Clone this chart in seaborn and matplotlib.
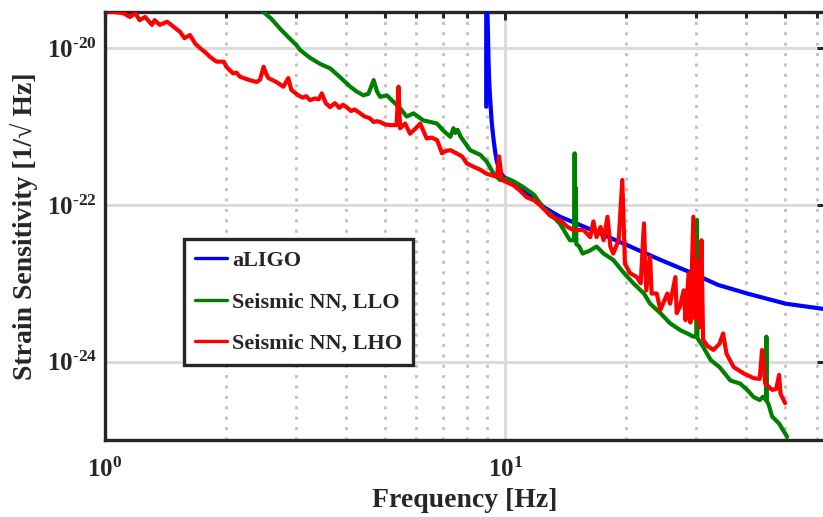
import numpy as np
import pandas as pd
import matplotlib
matplotlib.use("Agg")
import matplotlib.pyplot as plt
from matplotlib.ticker import FixedLocator, FixedFormatter, NullFormatter, NullLocator
import seaborn as sns

# ---------------- data ----------------
aligo_f = [8.96, 8.962, 9.03, 9.08, 9.12, 9.17, 9.25, 9.35, 9.45, 9.53, 9.7, 9.9,
           10.5, 11.8, 12.5, 13.7, 14.8, 17.0, 20.1, 24.4, 29.0, 34.0, 40.2, 50.2, 63.0]
aligo_logh = [-20.745, -19.0, -19.6, -20.15, -20.45, -20.66, -20.95, -21.17, -21.35, -21.45,
              -21.57, -21.64, -21.72, -21.92, -22.03, -22.15, -22.22, -22.35, -22.51, -22.70,
              -22.86, -23.02, -23.13, -23.26, -23.33]

llo_f = [2.48, 2.6, 2.75, 2.9, 3.01, 3.07, 3.25, 3.45, 3.65, 3.85, 4.10, 4.25, 4.42, 4.55,
         4.69, 4.78, 4.87, 5.06, 5.25, 5.45, 5.67, 5.9, 6.24, 6.5, 6.75, 7.0, 7.29, 7.42,
         7.5, 7.6, 7.74, 8.17, 8.66, 9.0, 9.35, 9.7, 10.1, 10.5, 11.0, 11.8, 12.5, 13.0,
         13.7, 14.5, 14.85, 14.9, 14.95, 15.0, 15.05, 15.3, 15.6, 16.3, 16.9, 17.6, 18.6,
         19.8, 20.9, 22.2, 23.0, 24.4, 25.8, 27.4, 28.5, 29.5, 30.0, 30.1, 30.2, 31.2,
         32.6, 34.3, 36.5, 38.6, 40.2, 41.7, 43.2, 44.0, 44.8, 44.9, 45.0, 45.5, 46.4,
         48.3, 50.6]
llo_logh = [-19.53, -19.62, -19.76, -19.88, -19.96, -20.02, -20.12, -20.20, -20.255, -20.36,
            -20.49, -20.55, -20.60, -20.58, -20.405, -20.55, -20.62, -20.60, -20.68, -20.76,
            -20.87, -20.83, -20.92, -20.94, -20.96, -21.05, -21.13, -21.02, -21.08, -21.04,
            -21.13, -21.30, -21.36, -21.45, -21.60, -21.68, -21.66, -21.70, -21.76, -21.87,
            -22.05, -22.12, -22.24, -22.45, -22.45, -21.34, -22.45, -21.78, -22.50, -22.53,
            -22.62, -22.58, -22.53, -22.62, -22.70, -22.87, -23.00, -23.13, -23.26, -23.38,
            -23.51, -23.60, -23.64, -23.68, -23.68, -22.19, -23.70, -23.81, -23.98, -24.07,
            -24.24, -24.28, -24.36, -24.45, -24.49, -24.45, -24.49, -23.68, -24.50, -24.55,
            -24.70, -24.79, -24.96]

lho_f = [1.0, 1.03, 1.07, 1.11, 1.155, 1.19, 1.22, 1.26, 1.31, 1.33, 1.37, 1.43, 1.48,
         1.54, 1.58, 1.63, 1.68, 1.73, 1.78, 1.83, 1.90, 1.98, 2.01, 2.05, 2.09, 2.13,
         2.17, 2.28, 2.39, 2.44, 2.49, 2.53, 2.56, 2.68, 2.79, 2.87, 2.92, 3.04, 3.12,
         3.18, 3.25, 3.35, 3.42, 3.48, 3.56, 3.65, 3.75, 3.85, 3.93, 4.01, 4.12, 4.2,
         4.34, 4.45, 4.58, 4.69, 4.78, 4.87, 5.0, 5.16, 5.35, 5.41, 5.46, 5.62, 5.78,
         5.95, 6.13, 6.36, 6.55, 6.75, 6.95, 7.1, 7.29, 7.55, 7.8, 8.02, 8.32, 8.66,
         8.97, 9.25, 9.53, 9.65, 9.8, 10.1, 10.5, 10.9, 11.3, 11.8, 12.2, 12.6, 12.9,
         13.3, 13.7, 14.3, 14.8, 15.7, 16.3, 16.6, 16.9, 17.3, 17.6, 18.0, 18.3, 18.6,
         19.2, 19.6, 19.9, 20.5, 21.3, 21.8, 22.2, 22.5, 23.0, 23.2, 23.9, 24.4, 25.4,
         25.8, 26.6, 26.8, 27.3, 27.9, 28.2, 28.7, 29.0, 29.5, 29.8, 30.1, 30.6, 30.9,
         31.2, 32.0, 33.1, 34.3, 35.0, 35.7, 37.2, 39.4, 41.7, 43.2, 43.8, 44.6, 46.4,
         47.5, 48.3, 48.7, 50.0]
lho_logh = [-19.51, -19.53, -19.54, -19.55, -19.60, -19.55, -19.64, -19.60, -19.70, -19.64,
            -19.70, -19.66, -19.72, -19.79, -19.87, -19.83, -19.94, -20.00, -20.05, -20.11,
            -20.17, -20.17, -20.235, -20.28, -20.32, -20.31, -20.36, -20.40, -20.43, -20.40,
            -20.235, -20.33, -20.38, -20.43, -20.49, -20.38, -20.53, -20.60, -20.63, -20.61,
            -20.66, -20.64, -20.65, -20.575, -20.70, -20.75, -20.70, -20.76, -20.72, -20.75,
            -20.80, -20.78, -20.83, -20.87, -20.89, -20.94, -20.93, -20.94, -20.97, -20.98,
            -20.98, -20.49, -21.02, -20.96, -21.09, -21.03, -20.96, -21.15, -21.14, -21.17,
            -21.34, -21.31, -21.30, -21.34, -21.38, -21.47, -21.51, -21.55, -21.60, -21.62,
            -21.64, -21.38, -21.68, -21.71, -21.75, -21.82, -21.90, -21.94, -22.00, -22.07,
            -22.13, -22.17, -22.19, -22.28, -22.32, -22.32, -22.41, -22.21, -22.41, -22.28,
            -22.45, -22.15, -22.53, -22.62, -22.45, -21.68, -22.75, -22.87, -22.92, -23.00,
            -22.235, -23.09, -22.66, -23.13, -23.13, -23.34, -23.13, -23.26, -22.92, -23.38,
            -23.30, -23.09, -23.47, -22.87, -23.50, -22.15, -23.45, -22.70, -23.56, -22.45,
            -23.72, -23.80, -23.85, -23.77, -23.64, -23.90, -24.07, -24.15, -24.21, -24.22,
            -23.85, -24.28, -24.36, -24.35, -24.17, -24.41, -24.53]

series_names = ["aLIGO", "Seismic NN, LLO", "Seismic NN, LHO"]
series_colors = ["#0000FF", "#008000", "#FF0000"]

x_ticks = [1, 10]
x_tick_labels = [r"$\mathrm{10^{0}}$", r"$\mathrm{10^{1}}$"]
y_ticks = [1e-24, 1e-22, 1e-20]
y_tick_labels = [r"$\mathrm{10^{\text{-}24}}$", r"$\mathrm{10^{\text{-}22}}$",
                 r"$\mathrm{10^{\text{-}20}}$"]

# ---------------- style ----------------
sns.set_theme(style="white")
plt.rcParams["font.family"] = ["Liberation Serif", "DejaVu Serif"]
plt.rcParams["font.weight"] = "bold"
plt.rcParams["axes.labelweight"] = "bold"
plt.rcParams["mathtext.fontset"] = "custom"
plt.rcParams["mathtext.rm"] = "Liberation Serif:bold"
plt.rcParams["mathtext.bf"] = "Liberation Serif:bold"
plt.rcParams["mathtext.it"] = "Liberation Serif:bold:italic"

fig = plt.figure(figsize=(8.23, 5.17), dpi=100)
ax = fig.add_axes([105 / 823, 77 / 517, 720 / 823, 428 / 517])
ax.set_xscale("log")
ax.set_yscale("log")

frames = []
for name, fvals, lvals in zip(series_names, [aligo_f, llo_f, lho_f],
                              [aligo_logh, llo_logh, lho_logh]):
    frames.append(pd.DataFrame({"freq": fvals,
                                "strain": np.power(10.0, np.array(lvals)),
                                "series": name}))
df = pd.concat(frames, ignore_index=True)

for name, color in zip(series_names, series_colors):
    sns.lineplot(data=df[df["series"] == name], x="freq", y="strain", color=color,
                 sort=False, estimator=None, linewidth=3.0, label=name, ax=ax,
                 zorder=3)

ax.set_xlim(1, 62.9)
ax.set_ylim(1e-25, 10 ** -19.536)

ax.xaxis.set_major_locator(FixedLocator(x_ticks))
ax.xaxis.set_major_formatter(FixedFormatter(x_tick_labels))
ax.xaxis.set_minor_locator(FixedLocator([2, 3, 4, 5, 6, 7, 8, 9, 20, 30, 40, 50, 60]))
ax.xaxis.set_minor_formatter(NullFormatter())
ax.yaxis.set_major_locator(FixedLocator(y_ticks))
ax.yaxis.set_major_formatter(FixedFormatter(y_tick_labels))
ax.yaxis.set_minor_locator(NullLocator())

ax.grid(which="major", axis="both", color="#dcdcdc", linewidth=2.2, linestyle="-", zorder=0)
ax.grid(which="minor", axis="x", color="#c4c4c4", linewidth=2.2,
        linestyle=(0, (1.0, 2.4)), zorder=0)
ax.set_axisbelow(True)

for s in ax.spines.values():
    s.set_linewidth(2.4)
    s.set_color("#262626")
    s.set_visible(True)

ax.tick_params(which="both", direction="in", top=True, right=True, color="#262626",
               width=2.2, labelsize=18)
ax.tick_params(which="major", length=6)
ax.tick_params(which="minor", length=4.5)
ax.tick_params(axis="x", which="major", pad=13)
ax.tick_params(axis="y", which="major", pad=6)

ax.set_xlabel("Frequency [Hz]", fontsize=20, fontweight="bold", labelpad=4)
ax.set_ylabel("Strain Sensitivity [1/\u221a Hz]", fontsize=20, fontweight="bold", labelpad=6)

leg = ax.legend(loc="upper left", bbox_to_anchor=(79 / 720, 201 / 428), borderaxespad=0,
                fontsize=16, frameon=True, fancybox=False, framealpha=1,
                edgecolor="#262626", handlelength=1.45, handletextpad=0.2,
                labelspacing=0.95, borderpad=0.5)
leg.get_frame().set_linewidth(2.4)
for h in leg.get_lines():
    h.set_linewidth(2.4)
for t in leg.get_texts():
    t.set_fontweight("bold")

fig.savefig("out.png", dpi=100)
